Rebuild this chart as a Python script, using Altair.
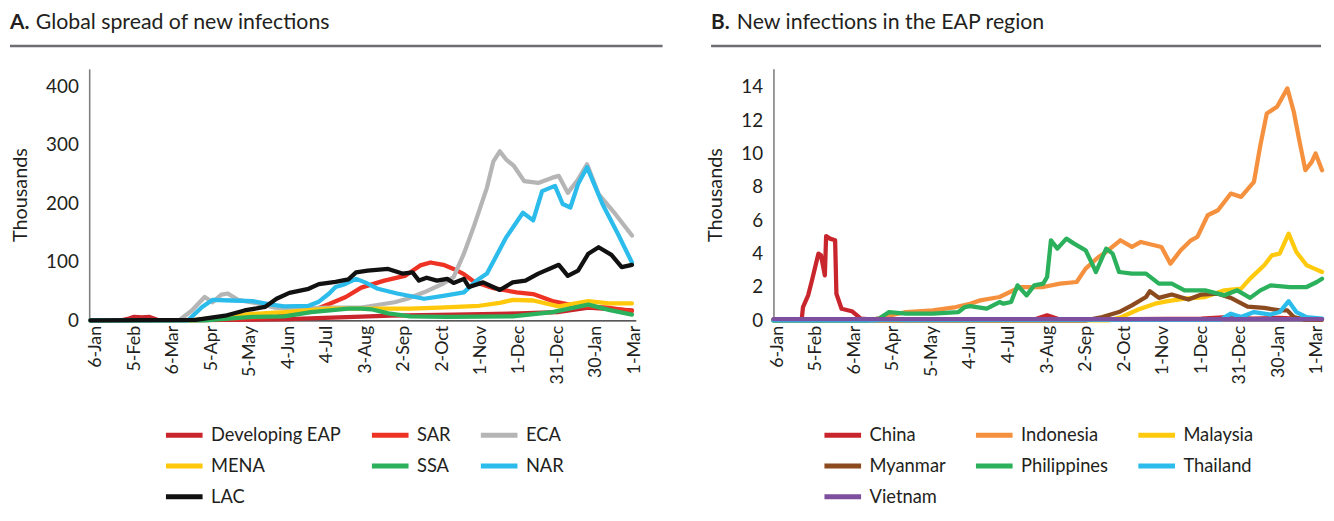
import json
import altair as alt
import pandas as pd

FONT = "Lato"
TXT = "#231f20"

# x axis: day offsets from 6-Jan-2020
TICK_DAYS = [0, 30, 60, 90, 120, 150, 180, 210, 240, 270, 300, 330, 360, 390, 420]
TICK_LABELS = ["6-Jan", "5-Feb", "6-Mar", "5-Apr", "5-May", "4-Jun", "4-Jul", "3-Aug",
               "2-Sep", "2-Oct", "1-Nov", "1-Dec", "31-Dec", "30-Jan", "1-Mar"]

# ---------------- Panel A: Global spread of new infections (thousands) -------------
A_NAMES = ["Developing EAP", "SAR", "ECA", "MENA", "SSA", "NAR", "LAC"]
A_COLORS = ["#c9252c", "#ee3224", "#b5b5b5", "#ffc80a", "#2bb05c", "#2cbcec", "#111111"]

dev_eap_days = [-4, 20, 26, 30, 36, 42, 48, 60, 100, 150, 190, 230, 280, 330, 360, 384, 395, 405, 418]
dev_eap_vals = [0, 0, 3, 6, 5, 6, 1, 0, 1, 2, 5, 8, 10, 12, 14, 22, 20, 19, 17]

sar_days = [-4, 60, 100, 140, 168, 182, 195, 207, 225, 241, 253, 261, 271, 279, 287, 295, 310, 328,
            341, 356, 374, 399, 418]
sar_vals = [0, 0, 2, 6, 16, 28, 40, 56, 68, 76, 94, 99, 95, 88, 79, 66, 55, 48, 45, 33, 25, 22, 16]

eca_days = [-4, 65, 75, 85, 91, 98, 103, 111, 126, 139, 151, 184, 207, 233, 243, 256, 271, 279, 287,
            295, 305, 310, 315, 320, 326, 334, 345, 356, 361, 368, 376, 383, 392, 405, 418]
eca_vals = [0, 0, 17, 40, 31, 44, 46, 35, 29, 22, 20, 22, 22, 31, 37, 48, 63, 74, 114,
            162, 227, 272, 289, 275, 264, 238, 235, 244, 247, 218, 241, 267, 216, 182, 145]

mena_days = [-4, 75, 90, 122, 147, 182, 220, 245, 268, 299, 315, 325, 341, 361, 384, 400, 418]
mena_vals = [0, 0, 4, 11, 14, 20, 20, 20, 22, 25, 30, 35, 34, 24, 33, 29, 29]

ssa_days = [-4, 85, 122, 147, 168, 197, 207, 215, 228, 245, 274, 325, 356, 384, 400, 418]
ssa_vals = [0, 0, 6, 7, 14, 20, 20, 19, 12, 7, 6, 7, 14, 27, 18, 10]

nar_days = [-4, 72, 83, 91, 106, 122, 137, 147, 166, 174, 182, 187, 193, 203, 210, 220, 235, 256, 271,
            287, 297, 305, 320, 333, 341, 348, 358, 364, 370, 376, 383, 395, 407, 418]
nar_vals = [0, 0, 23, 35, 34, 33, 27, 24, 25, 32, 46, 57, 61, 71, 65, 54, 46, 37, 42,
            48, 68, 80, 142, 184, 171, 221, 230, 199, 193, 233, 262, 199, 148, 99]

lac_days = [-4, 78, 101, 116, 132, 141, 151, 166, 174, 187, 197, 203, 212, 228, 239, 247, 252, 258,
            266, 274, 279, 287, 291, 302, 315, 325, 335, 345, 361, 368, 376, 384, 392, 402, 410, 418]
lac_vals = [0, 1, 8, 17, 23, 37, 47, 54, 62, 66, 70, 82, 85, 88, 80, 82, 68, 73,
            68, 71, 64, 71, 57, 65, 52, 65, 68, 80, 95, 76, 85, 114, 125, 112, 91, 95]

A_SERIES = [(dev_eap_days, dev_eap_vals), (sar_days, sar_vals), (eca_days, eca_vals),
            (mena_days, mena_vals), (ssa_days, ssa_vals), (nar_days, nar_vals), (lac_days, lac_vals)]

A_YTICKS = [0, 100, 200, 300, 400]

# ---------------- Panel B: New infections in the EAP region (thousands) ------------
B_NAMES = ["China", "Indonesia", "Malaysia", "Myanmar", "Philippines", "Thailand", "Vietnam"]
B_COLORS = ["#c9252c", "#f5913e", "#ffc90d", "#8c4a1f", "#2bb05c", "#2cbcec", "#7e4f9e"]

china_days = [-3, 19, 20, 24, 27, 32, 34, 37, 38, 41, 45, 46, 50, 58, 65, 75, 200, 210, 220, 330,
              350, 370, 390, 424]
china_vals = [0.05, 0.05, 0.8, 1.5, 2.4, 4.0, 3.9, 2.7, 5.05, 4.9, 4.8, 1.6, 0.7, 0.55, 0.1, 0.05,
              0.05, 0.3, 0.05, 0.1, 0.2, 0.1, 0.15, 0.05]

indonesia_days = [-3, 70, 77, 100, 121, 139, 150, 158, 173, 189, 207, 220, 233, 240, 250, 256, 267,
                  276, 283, 299, 306, 314, 322, 327, 335, 343, 353, 361, 371, 376, 381, 389, 397,
                  402, 406, 411, 416, 419, 424]
indonesia_vals = [0, 0, 0.1, 0.5, 0.6, 0.8, 1.0, 1.2, 1.4, 2.0, 2.0, 2.2, 2.3, 3.1, 3.8, 4.1, 4.8,
                  4.4, 4.7, 4.4, 3.4, 4.2, 4.8, 5.0, 6.3, 6.6, 7.6, 7.4, 8.3, 10.5, 12.4, 12.8, 13.9,
                  12.5, 10.9, 9.0, 9.5, 10.0, 9.0]

malaysia_days = [-3, 258, 268, 281, 294, 304, 317, 333, 348, 361, 368, 379, 385, 391, 398, 404, 412,
                 418, 424]
malaysia_vals = [0, 0, 0.2, 0.65, 1.0, 1.15, 1.3, 1.4, 1.8, 1.9, 2.5, 3.3, 3.9, 4.0, 5.2, 4.1, 3.3,
                 3.1, 2.9]

myanmar_days = [-3, 240, 253, 266, 276, 287, 290, 297, 307, 320, 330, 343, 353, 366, 379, 391, 397,
                402, 410, 424]
myanmar_vals = [0, 0, 0.2, 0.5, 0.9, 1.4, 1.75, 1.35, 1.55, 1.25, 1.55, 1.6, 1.35, 0.83, 0.75, 0.6,
                0.6, 0.2, 0.05, 0.05]

philippines_days = [-3, 70, 79, 87, 100, 121, 141, 146, 150, 163, 173, 176, 182, 187, 194, 200, 207,
                    210, 213, 218, 225, 231, 240, 245, 248, 256, 261, 266, 276, 287, 297, 307, 317,
                    333, 348, 358, 368, 376, 384, 399, 412, 420, 424]
philippines_vals = [0, 0, 0.1, 0.5, 0.4, 0.4, 0.5, 0.8, 0.85, 0.7, 1.1, 1.0, 1.1, 2.1, 1.5, 2.1, 2.2,
                    2.6, 4.8, 4.3, 4.9, 4.6, 4.2, 3.4, 2.9, 4.3, 4.0, 2.9, 2.8, 2.8, 2.2, 2.2, 1.8,
                    1.8, 1.5, 1.8, 1.35, 1.8, 2.1, 2.0, 2.0, 2.3, 2.5]

thailand_days = [-3, 75, 85, 100, 345, 353, 361, 371, 384, 391, 398, 404, 412, 424]
thailand_vals = [0, 0, 0.05, 0.02, 0.05, 0.4, 0.2, 0.5, 0.35, 0.5, 1.15, 0.5, 0.2, 0.1]

vietnam_days = [-3, 100, 200, 300, 424]
vietnam_vals = [0.08, 0.08, 0.08, 0.08, 0.08]

B_SERIES = [(china_days, china_vals), (indonesia_days, indonesia_vals),
            (malaysia_days, malaysia_vals), (myanmar_days, myanmar_vals),
            (philippines_days, philippines_vals), (thailand_days, thailand_vals),
            (vietnam_days, vietnam_vals)]

B_YTICKS = [0, 2, 4, 6, 8, 10, 12, 14]

LABEL_EXPR = json.dumps(TICK_LABELS) + "[round(datum.value / 30)]"


def build_df(names, series):
    rows = []
    for name, (days, vals) in zip(names, series):
        for d, v in zip(days, vals):
            rows.append({"series": name, "day": d, "value": v})
    return pd.DataFrame(rows)


def panel(names, colors, series, xdom, ydom, yticks, width, height,
          title_rest, rule_x1, rule_x2, legend_x):
    df = build_df(names, series)
    color = alt.Color(
        "series:N",
        scale=alt.Scale(domain=names, range=colors),
        legend=alt.Legend(
            orient="none", legendX=legend_x, legendY=349, direction="horizontal",
            columns=3, title=None, symbolType="stroke", symbolSize=1369,
            symbolStrokeWidth=5, labelFont=FONT, labelFontSize=18.5, labelColor=TXT,
            labelOffset=6, columnPadding=20, rowPadding=-6, labelLimit=0,
            gridAlign="each", padding=0,
        ),
    )
    x = alt.X(
        "day:Q",
        scale=alt.Scale(domain=xdom, nice=False, zero=False),
        axis=alt.Axis(values=TICK_DAYS, labelExpr=LABEL_EXPR, labelAngle=-90, title=None,
                      labelFontSize=18, labelPadding=5, labelFlush=False, labelOverlap=False,
                      domainColor="#231f20", domainWidth=1.2),
    )
    y = alt.Y(
        "value:Q",
        scale=alt.Scale(domain=ydom, nice=False),
        axis=alt.Axis(values=yticks, title="Thousands", titleFontSize=20,
                      titleFontWeight="normal", titlePadding=15, labelFontSize=19,
                      labelPadding=11, labelFlush=False, domainColor="#7f7f7f",
                      domainWidth=1.6),
    )
    layers = []
    for name in names:
        layers.append(
            alt.Chart(df)
            .transform_filter(alt.datum.series == name)
            .mark_line(strokeWidth=4.3, strokeJoin="round", strokeCap="round")
            .encode(x=x, y=y, color=color)
        )
    one = pd.DataFrame({"k": [0]})
    rule = alt.Chart(one).mark_rule(color="#6d6e71", strokeWidth=2.5).encode(
        x=alt.value(rule_x1), x2=alt.value(rule_x2), y=alt.value(-23)
    )
    t_bold = alt.Chart(one).mark_text(
        text=title_rest[0], align="left", baseline="middle", font=FONT, fontSize=21,
        fontWeight="bold", color=TXT
    ).encode(x=alt.value(rule_x1), y=alt.value(-46))
    t_rest = alt.Chart(one).mark_text(
        text=title_rest[1], align="left", baseline="middle", font=FONT, fontSize=21.5,
        fontWeight="normal", color=TXT
    ).encode(x=alt.value(rule_x1 + 26), y=alt.value(-46))
    return alt.layer(*layers, rule, t_bold, t_rest).properties(width=width, height=height)


left = panel(A_NAMES, A_COLORS, A_SERIES, [-5, 421], [0, 430], A_YTICKS, 552, 254,
             ("A.", "Global spread of new infections"), -80, 579, 75)
right = panel(B_NAMES, B_COLORS, B_SERIES, [-3, 424], [0, 15.07], B_YTICKS, 554, 254,
              ("B.", "New infections in the EAP region"), -63, 553, 49)

chart = (
    alt.hconcat(left, right, spacing=41)
    .resolve_scale(color="independent", x="independent", y="independent")
    .configure_view(stroke=None)
    .configure_axis(labelFont=FONT, titleFont=FONT, labelColor=TXT, titleColor=TXT,
                    ticks=False, grid=False)
    .properties(padding={"left": 0, "top": 2, "right": 0, "bottom": 0}, background="white")
)

chart.save("out.html", embed_options={"renderer": "svg", "actions": False})
